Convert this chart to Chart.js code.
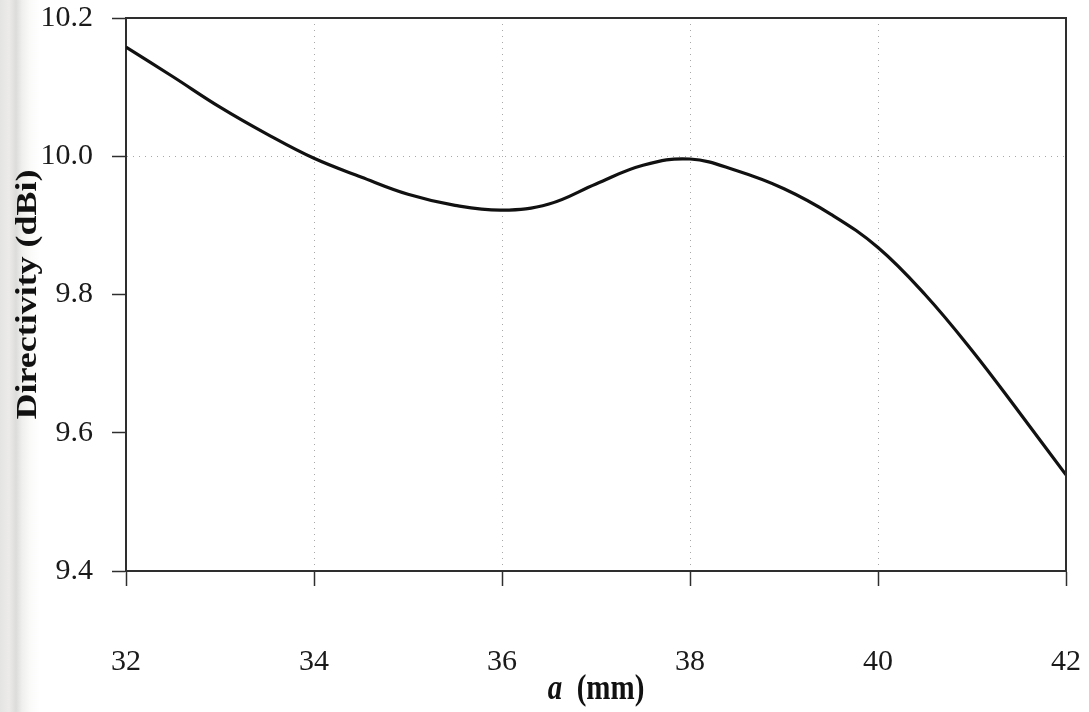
<!DOCTYPE html>
<html>
<head>
<meta charset="utf-8">
<title>Directivity vs a</title>
<script src="https://cdn.jsdelivr.net/npm/chart.js@4/dist/chart.umd.min.js"></script>
<style>
  html, body { margin: 0; padding: 0; }
  body {
    width: 1089px; height: 712px; overflow: hidden;
    background: linear-gradient(to right, #e4e4e2 0px, #ecebe9 9px, #dcdcda 16px, #efefed 22px, #fafaf9 30px, #ffffff 40px);
  }
  #wrap { position: relative; width: 1089px; height: 712px; }
</style>
</head>
<body>
<div id="wrap"><canvas id="chart" width="1089" height="712"></canvas></div>
<script>
// Antenna dimension a (mm) and the simulated directivity (dBi)
const aValues = [32, 32.5, 33, 33.5, 34, 34.5, 35, 35.5, 36, 36.5, 37,
                 37.5, 38, 38.5, 39, 39.5, 40, 40.5, 41, 41.5, 42];
const directivity = [10.158, 10.115, 10.071, 10.032, 9.997, 9.970, 9.945, 9.929, 9.922, 9.931, 9.960,
                     9.987, 9.996, 9.979, 9.953, 9.916, 9.868, 9.800, 9.719, 9.630, 9.539];
const xTicks = [32, 34, 36, 38, 40, 42];
const yTicks = [9.4, 9.6, 9.8, 10.0, 10.2];

const SERIF = '"Liberation Serif", "Times New Roman", serif';
const AXIS_COLOR = '#2e2e2e';
const GRID_COLOR = '#a8a8a8';

// Solid frame on the top and right edges plus both axis titles
const framePlugin = {
  id: 'frameAndTitles',
  afterDraw(chart) {
    const { ctx, chartArea: ca } = chart;
    ctx.save();
    ctx.setLineDash([]);
    ctx.strokeStyle = AXIS_COLOR;
    ctx.lineWidth = 2;
    ctx.beginPath();
    ctx.moveTo(ca.left, ca.top);
    ctx.lineTo(ca.right, ca.top);
    ctx.lineTo(ca.right, ca.bottom);
    ctx.stroke();

    ctx.fillStyle = '#111';
    // y-axis title
    ctx.save();
    ctx.translate(29, (ca.top + ca.bottom) / 2);
    ctx.rotate(-Math.PI / 2);
    ctx.scale(1.24, 1);
    ctx.font = 'bold 29px ' + SERIF;
    ctx.textAlign = 'center';
    ctx.textBaseline = 'middle';
    ctx.fillText('Directivity (dBi)', 0, 0);
    ctx.restore();

    // x-axis title: italic symbol followed by the unit
    ctx.save();
    const cx = (ca.left + ca.right) / 2;
    ctx.translate(cx, 690);
    ctx.scale(1, 1.2);
    ctx.textBaseline = 'middle';
    const symFont = 'italic bold 29px ' + SERIF;
    const unitFont = 'bold 29px ' + SERIF;
    ctx.font = symFont;
    const wSym = ctx.measureText('a').width;
    ctx.font = unitFont;
    const gap = ctx.measureText('  ').width;
    const wUnit = ctx.measureText('(mm)').width;
    const start = -(wSym + gap + wUnit) / 2;
    ctx.textAlign = 'left';
    ctx.font = symFont;
    ctx.fillText('a', start, 0);
    ctx.font = unitFont;
    ctx.fillText('(mm)', start + wSym + gap, 0);
    ctx.restore();

    ctx.restore();
  }
};

new Chart(document.getElementById('chart'), {
  type: 'line',
  data: {
    datasets: [{
      data: aValues.map((a, i) => ({ x: a, y: directivity[i] })),
      borderColor: '#111',
      borderWidth: 3.2,
      pointRadius: 0,
      fill: false,
      tension: 0.4
    }]
  },
  options: {
    responsive: false,
    animation: false,
    layout: { padding: { left: 0, top: 18, right: 23, bottom: 0 } },
    plugins: { legend: { display: false }, tooltip: { enabled: false } },
    scales: {
      x: {
        type: 'linear',
        min: xTicks[0],
        max: xTicks[xTicks.length - 1],
        afterFit(scale) {
          scale.height = 141;
          scale.paddingLeft = 0;
          scale.paddingRight = 0;
        },
        afterBuildTicks(scale) { scale.ticks = xTicks.map(v => ({ value: v })); },
        border: { display: true, color: AXIS_COLOR, width: 2, dash: [1, 5] },
        grid: {
          color: c => (c.tick && (c.tick.value === xTicks[0] || c.tick.value === xTicks[xTicks.length - 1])) ? 'rgba(0,0,0,0)' : GRID_COLOR,
          lineWidth: 1,
          tickColor: AXIS_COLOR,
          tickBorderDash: [],
          tickWidth: 1.5,
          tickLength: 15
        },
        ticks: {
          color: '#1a1a1a',
          font: { family: SERIF, size: 30 },
          padding: 58,
          maxRotation: 0,
          callback: v => String(v)
        }
      },
      y: {
        type: 'linear',
        min: yTicks[0],
        max: yTicks[yTicks.length - 1],
        afterFit(scale) {
          scale.width = 126;
          scale.paddingTop = 0;
          scale.paddingBottom = 0;
        },
        afterBuildTicks(scale) { scale.ticks = yTicks.map(v => ({ value: v })); },
        border: { display: true, color: AXIS_COLOR, width: 2, dash: [1, 5] },
        grid: {
          color: c => (c.tick && Math.abs(c.tick.value - 10.0) < 1e-6) ? GRID_COLOR : 'rgba(0,0,0,0)',
          lineWidth: 1,
          tickColor: AXIS_COLOR,
          tickBorderDash: [],
          tickWidth: 1.5,
          tickLength: 14
        },
        ticks: {
          color: '#1a1a1a',
          font: { family: SERIF, size: 30 },
          padding: 19,
          callback: v => Number(v).toFixed(1)
        }
      }
    }
  },
  plugins: [framePlugin]
});
</script>
</body>
</html>
